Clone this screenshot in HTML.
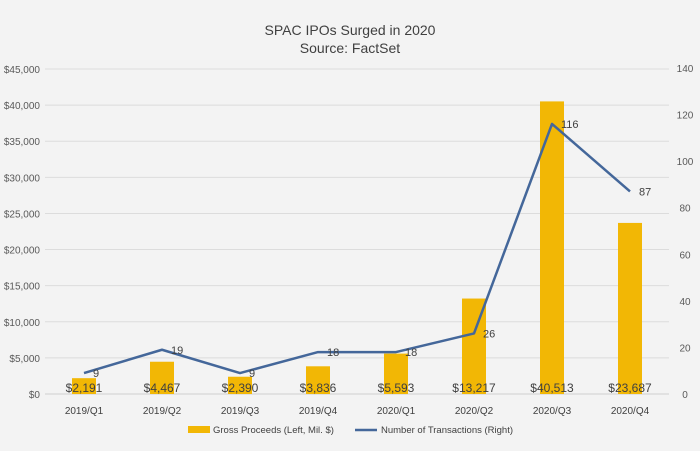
<!DOCTYPE html>
<html><head><meta charset="utf-8"><style>
body{margin:0;background:#f3f3f3;}
svg{display:block;font-family:"Liberation Sans",sans-serif;}
</style></head><body>
<svg id="chart" width="700" height="451" viewBox="0 0 700 451">
<rect width="700" height="451" fill="#f3f3f3"/>
<text x="350" y="35" text-anchor="middle" font-size="14" fill="#404040">SPAC IPOs Surged in 2020</text>
<text x="350" y="53" text-anchor="middle" font-size="14" fill="#404040">Source: FactSet</text>
<g id="grid"></g><g id="bars"></g><g id="line"></g><g id="labels"></g>
<g>
<rect x="188" y="426" width="22" height="7" fill="#f2b705"/>
<text x="213" y="433" font-size="9.5" fill="#404040">Gross Proceeds (Left, Mil. $)</text>
<line x1="355" y1="430" x2="377" y2="430" stroke="#44679a" stroke-width="2.5"/>
<text x="381" y="433" font-size="9.5" fill="#404040">Number of Transactions (Right)</text>
</g>
</svg>
<script>
const categories=["2019/Q1","2019/Q2","2019/Q3","2019/Q4","2020/Q1","2020/Q2","2020/Q3","2020/Q4"];
const proceeds=[2191,4467,2390,3836,5593,13217,40513,23687];
const proceedLabels=["$2,191","$4,467","$2,390","$3,836","$5,593","$13,217","$40,513","$23,687"];
const transactions=[9,19,9,18,18,26,116,87];
const leftTicks=[0,5000,10000,15000,20000,25000,30000,35000,40000,45000];
const rightTicks=[0,20,40,60,80,100,120,140];
const NS="http://www.w3.org/2000/svg";
const x0=45,x1=669,yB=394,yT=69;
const band=(x1-x0)/categories.length;
const xc=i=>x0+band*(i+0.5);
const yL=v=>yB-(v/45000)*(yB-yT);
const yR=v=>yB-(v/140)*(yB-yT+1);
function mk(tag,attrs,parent,text){const e=document.createElementNS(NS,tag);for(const k in attrs)e.setAttribute(k,attrs[k]);if(text!==undefined)e.textContent=text;parent.appendChild(e);return e;}
const grid=document.getElementById('grid'),bars=document.getElementById('bars'),line=document.getElementById('line'),labels=document.getElementById('labels');
leftTicks.forEach(t=>{
  const l=mk('line',{x1:x0,x2:x1,y1:yL(t),y2:yL(t),stroke:t===0?'#cfcfcf':'#dcdcdc','stroke-width':1},grid);
  
  
  const tx=mk('text',{x:40,y:yL(t)+4,'text-anchor':'end','font-size':10,fill:'#595959'},grid,'$'+t.toLocaleString('en-US'));
  
  
});
rightTicks.forEach(t=>{
  const tx=mk('text',{x:685,y:yR(t)+4,'text-anchor':'middle','font-size':10,fill:'#595959'},grid,String(t));
  
  
});
categories.forEach((c,i)=>{
  const r=mk('rect',{x:xc(i)-12,y:yL(proceeds[i]),width:24,height:yB-yL(proceeds[i]),fill:'#f2b705'},bars);
  
  
  const t=mk('text',{x:xc(i),y:414,'text-anchor':'middle','font-size':10,fill:'#404040'},labels,c);
  
  
  const v=mk('text',{x:xc(i),y:yB-2,'text-anchor':'middle','font-size':12,fill:'#404040'},labels,proceedLabels[i]);
  
  
  const n=mk('text',{x:xc(i)+9,y:yR(transactions[i])+4,'font-size':11,fill:'#404040'},labels,String(transactions[i]));
  
  
});
const pts=transactions.map((v,i)=>xc(i)+','+yR(v)).join(' ');
const pl=mk('polyline',{points:pts,fill:'none',stroke:'#44679a','stroke-width':2.5,'stroke-linejoin':'round'},line);


</script>
</body></html>
